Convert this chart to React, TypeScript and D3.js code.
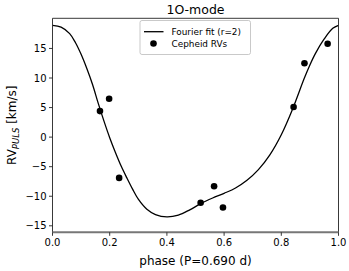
import React from 'react';
import * as d3 from 'd3';

// Fourier fit curve (phase, RV km/s)
const fitPhase = [0, 0.03, 0.06, 0.08, 0.1, 0.12, 0.14, 0.16, 0.18, 0.2, 0.22, 0.24, 0.26, 0.28, 0.3, 0.33, 0.36, 0.4, 0.44, 0.48, 0.52, 0.56, 0.6, 0.64, 0.68, 0.72, 0.76, 0.8, 0.84, 0.88, 0.9, 0.92, 0.95, 0.98, 1.0];
const fitRV = [18.9, 18.6, 17.5, 16.0, 14.0, 11.6, 8.9, 5.7, 2.7, -0.1, -2.6, -4.9, -6.9, -8.8, -10.5, -12.2, -13.1, -13.5, -13.2, -12.3, -11.2, -10.3, -9.5, -8.6, -7.3, -5.5, -3.0, 0.4, 4.8, 9.9, 12.2, 14.2, 16.6, 18.4, 18.9];

// Cepheid radial velocities
const obsPhase = [0.166, 0.198, 0.233, 0.518, 0.565, 0.596, 0.843, 0.881, 0.962];
const obsRV = [4.4, 6.5, -6.9, -11.1, -8.3, -11.9, 5.1, 12.5, 15.8];

const xTicks = [0, 0.2, 0.4, 0.6, 0.8, 1.0];
const yTicks = [-15, -10, -5, 0, 5, 10, 15];

const W = 349;
const H = 271;
const left = 52.5, right = 338.5, top = 18.3, bottom = 232.3;
const font = 'DejaVu Sans, sans-serif';

export default function App() {
  const x = d3.scaleLinear().domain([0, 1]).range([left, right]);
  const y = d3.scaleLinear().domain([-16.1, 20.1]).range([bottom, top]);

  const line = d3.line<number>()
    .x((_, i) => x(fitPhase[i]))
    .y(d => y(d))
    .curve(d3.curveCatmullRom.alpha(0.5));

  return (
    <svg width={W} height={H} style={{ position: 'absolute', left: 0, top: 0 }} fontFamily={font}>
      <rect x={0} y={0} width={W} height={H} fill="white" />

      <clipPath id="plot">
        <rect x={left} y={top} width={right - left} height={bottom - top} />
      </clipPath>
      <path d={line(fitRV) || ''} fill="none" stroke="black" strokeWidth={1.3} clipPath="url(#plot)" />
      {obsPhase.map((p, i) => (
        <circle key={i} cx={x(p)} cy={y(obsRV[i])} r={3.3} fill="black" />
      ))}

      {/* spines */}
      <line x1={left} x2={left} y1={top} y2={bottom} stroke="#222" strokeWidth={0.9} />
      <line x1={right} x2={right} y1={top} y2={bottom} stroke="#222" strokeWidth={0.9} />
      <line x1={left} x2={right} y1={top} y2={top} stroke="#222" strokeWidth={0.9} />
      <line x1={left} x2={right} y1={bottom} y2={bottom} stroke="#777" strokeWidth={2} />

      {/* x axis */}
      {xTicks.map(t => (
        <g key={t}>
          <line x1={x(t)} x2={x(t)} y1={bottom} y2={bottom + 3.5} stroke="#222" strokeWidth={0.9} />
          <text x={x(t)} y={bottom + 14} textAnchor="middle" fontSize={10}>{t.toFixed(1)}</text>
        </g>
      ))}
      <text x={(left + right) / 2} y={265} textAnchor="middle" fontSize={12}>phase (P=0.690 d)</text>

      {/* y axis */}
      {yTicks.map(t => (
        <g key={t}>
          <line x1={left - 3.5} x2={left} y1={y(t)} y2={y(t)} stroke="#222" strokeWidth={0.9} />
          <text x={left - 6} y={y(t) + 3.5} textAnchor="end" fontSize={10}>{t < 0 ? '\u2212' + Math.abs(t) : t}</text>
        </g>
      ))}
      <text transform={`translate(16, ${(top + bottom) / 2}) rotate(-90)`} textAnchor="middle" fontSize={12}>
        RV<tspan fontSize={8.5} fontStyle="italic" dy={3}>PULS</tspan><tspan dy={-3}> [km/s]</tspan>
      </text>

      {/* title */}
      <text x={(left + right) / 2} y={13.5} textAnchor="middle" fontSize={12.5}>1O-mode</text>

      {/* legend */}
      <rect x={140} y={20.5} width={110.5} height={34} rx={2} fill="white" stroke="#bbb" strokeWidth={0.8} />
      <line x1={144} x2={163.5} y1={31.7} y2={31.7} stroke="black" strokeWidth={1.3} />
      <text x={171.5} y={34.8} fontSize={8.9}>Fourier fit (r=2)</text>
      <circle cx={153.5} cy={43.5} r={3.3} fill="black" />
      <text x={171.5} y={46.6} fontSize={8.9}>Cepheid RVs</text>
    </svg>
  );
}
